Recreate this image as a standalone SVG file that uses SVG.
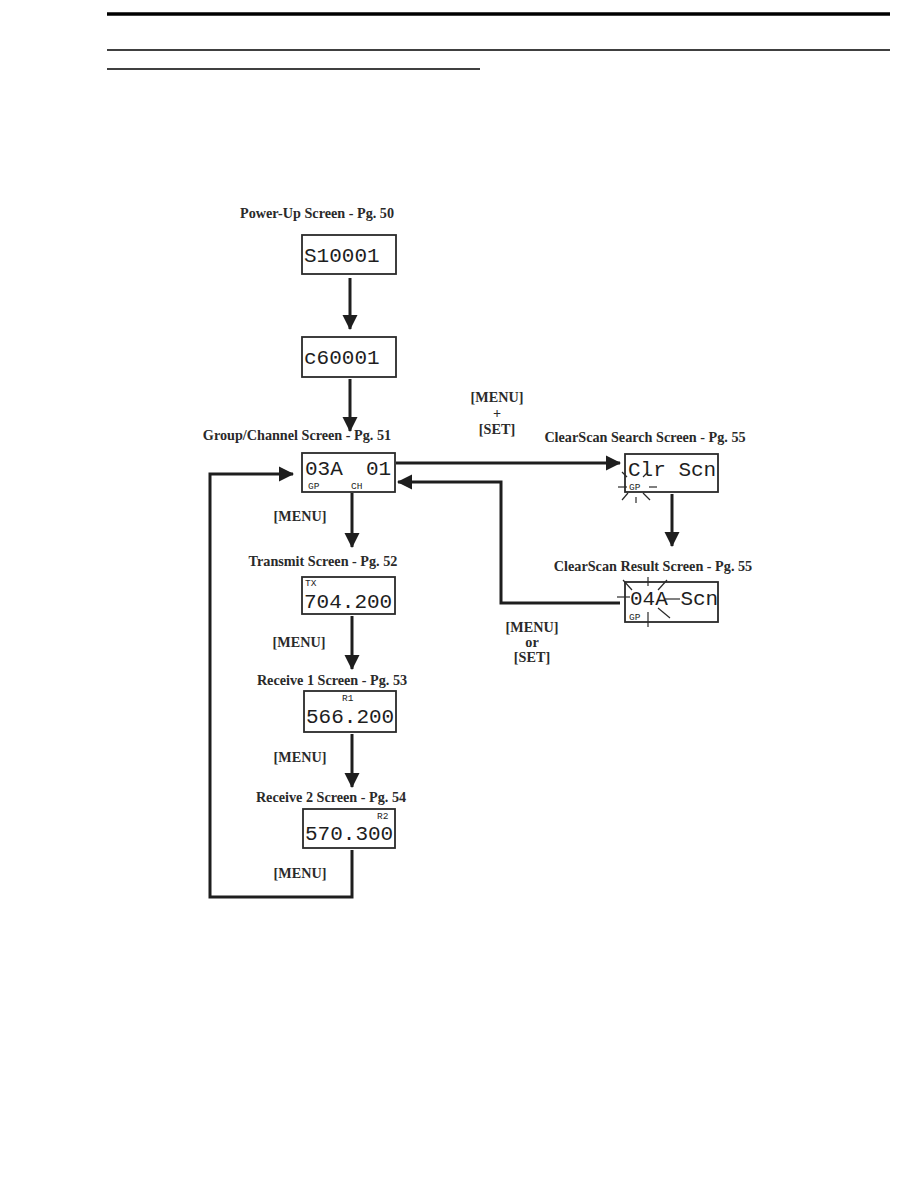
<svg xmlns="http://www.w3.org/2000/svg" width="918" height="1188" viewBox="0 0 918 1188">
<defs>
<marker id="ah" markerUnits="userSpaceOnUse" markerWidth="16" markerHeight="16" viewBox="0 0 16 16" refX="14" refY="8" orient="auto">
<path d="M0,0.5 L15,8 L0,15.5 Z" fill="#1e1e1e"/>
</marker>
<style>
.lbl{font-family:"Liberation Serif","Times New Roman",serif;font-weight:bold;font-size:14.2px;fill:#2a2a2a;text-anchor:middle}
.scr{font-family:"Liberation Mono","Courier New",monospace;font-size:21px;fill:#1e1e1e}
.sm{font-family:"Liberation Mono","Courier New",monospace;font-size:9.5px;fill:#1e1e1e}
.box{fill:#fff;stroke:#2a2a2a;stroke-width:1.8}
.con{fill:none;stroke:#1e1e1e;stroke-width:3}
.ray{stroke:#2a2a2a;stroke-width:1.2}
</style>
</defs>
<rect width="918" height="1188" fill="#fff"/>
<g id="header">
<line x1="107" y1="14" x2="890" y2="14" stroke="#000" stroke-width="3.5"/>
<line x1="107" y1="50" x2="890" y2="50" stroke="#000" stroke-width="1.5"/>
<line x1="107" y1="69" x2="480" y2="69" stroke="#000" stroke-width="1.5"/>
</g>
<g id="connectors">
<line class="con" x1="350" y1="278" x2="350" y2="329" marker-end="url(#ah)"/>
<line class="con" x1="350" y1="379" x2="350" y2="431" marker-end="url(#ah)"/>
<line class="con" x1="352" y1="493" x2="352" y2="547" marker-end="url(#ah)"/>
<line class="con" x1="352" y1="616" x2="352" y2="669" marker-end="url(#ah)"/>
<line class="con" x1="352" y1="734" x2="352" y2="787" marker-end="url(#ah)"/>
<polyline class="con" points="352,850 352,897 210,897 210,474 293,474" marker-end="url(#ah)"/>
<line class="con" x1="396" y1="463" x2="620" y2="463" marker-end="url(#ah)"/>
<line class="con" x1="672" y1="494" x2="672" y2="546" marker-end="url(#ah)"/>
<polyline class="con" points="620,603 501,603 501,482 398,482" marker-end="url(#ah)"/>
<text class="lbl" x="497" y="402">[MENU]</text>
<text class="lbl" x="497" y="418">+</text>
<text class="lbl" x="497" y="434">[SET]</text>
<text class="lbl" x="300" y="521">[MENU]</text>
<text class="lbl" x="299" y="647">[MENU]</text>
<text class="lbl" x="300" y="762">[MENU]</text>
<text class="lbl" x="300" y="878">[MENU]</text>
<text class="lbl" x="532" y="632">[MENU]</text>
<text class="lbl" x="532" y="647">or</text>
<text class="lbl" x="532" y="662">[SET]</text>
</g>
<g id="powerup">
<text class="lbl" x="317" y="218">Power-Up Screen - Pg. 50</text>
<rect class="box" x="302" y="235" width="94" height="39"/>
<text class="scr" x="304" y="262">S10001</text>
</g>
<g id="c60001">
<rect class="box" x="302" y="337" width="94" height="40"/>
<text class="scr" x="304" y="364">c60001</text>
</g>
<g id="groupchannel">
<text class="lbl" x="297" y="440">Group/Channel Screen - Pg. 51</text>
<rect class="box" x="302" y="453" width="93" height="39"/>
<text class="scr" x="305" y="475">03A</text>
<text class="scr" x="366" y="475">01</text>
<text class="sm" x="308" y="489">GP</text>
<text class="sm" x="351" y="489">CH</text>
</g>
<g id="transmit">
<text class="lbl" x="323" y="566">Transmit Screen - Pg. 52</text>
<rect class="box" x="302" y="577" width="93" height="37"/>
<text class="sm" x="305" y="586">TX</text>
<text class="scr" x="304" y="608">704.200</text>
</g>
<g id="receive1">
<text class="lbl" x="332" y="685">Receive 1 Screen - Pg. 53</text>
<rect class="box" x="304" y="691" width="92" height="41"/>
<text class="sm" x="342" y="701">R1</text>
<text class="scr" x="306" y="723">566.200</text>
</g>
<g id="receive2">
<text class="lbl" x="331" y="802">Receive 2 Screen - Pg. 54</text>
<rect class="box" x="303" y="809" width="92" height="39"/>
<text class="sm" x="377" y="819">R2</text>
<text class="scr" x="305" y="840">570.300</text>
</g>
<g id="clearscan-search">
<text class="lbl" x="645" y="442">ClearScan Search Screen - Pg. 55</text>
<rect class="box" x="625" y="454" width="93" height="38"/>
<text class="scr" x="628" y="476">Clr Scn</text>
<text class="sm" x="629" y="490">GP</text>
<line class="ray" x1="622" y1="472" x2="627" y2="477"/>
<line class="ray" x1="643" y1="477" x2="648" y2="472"/>
<line class="ray" x1="618" y1="487" x2="627" y2="487"/>
<line class="ray" x1="649" y1="487" x2="657" y2="487"/>
<line class="ray" x1="622" y1="500" x2="628" y2="493"/>
<line class="ray" x1="643" y1="493" x2="650" y2="500"/>
<line class="ray" x1="636" y1="497" x2="636" y2="503"/>
</g>
<g id="clearscan-result">
<text class="lbl" x="653" y="571">ClearScan Result Screen - Pg. 55</text>
<rect class="box" x="625" y="582" width="93" height="40"/>
<text class="scr" x="630" y="605">04A Scn</text>
<text class="sm" x="629" y="620">GP</text>
<line class="ray" x1="623" y1="580" x2="632" y2="590"/>
<line class="ray" x1="648" y1="577" x2="648" y2="586"/>
<line class="ray" x1="658" y1="590" x2="667" y2="580"/>
<line class="ray" x1="617" y1="597" x2="630" y2="597"/>
<line class="ray" x1="665" y1="599" x2="680" y2="599"/>
<line class="ray" x1="658" y1="608" x2="670" y2="618"/>
<line class="ray" x1="648" y1="612" x2="648" y2="627"/>
</g>
</svg>
